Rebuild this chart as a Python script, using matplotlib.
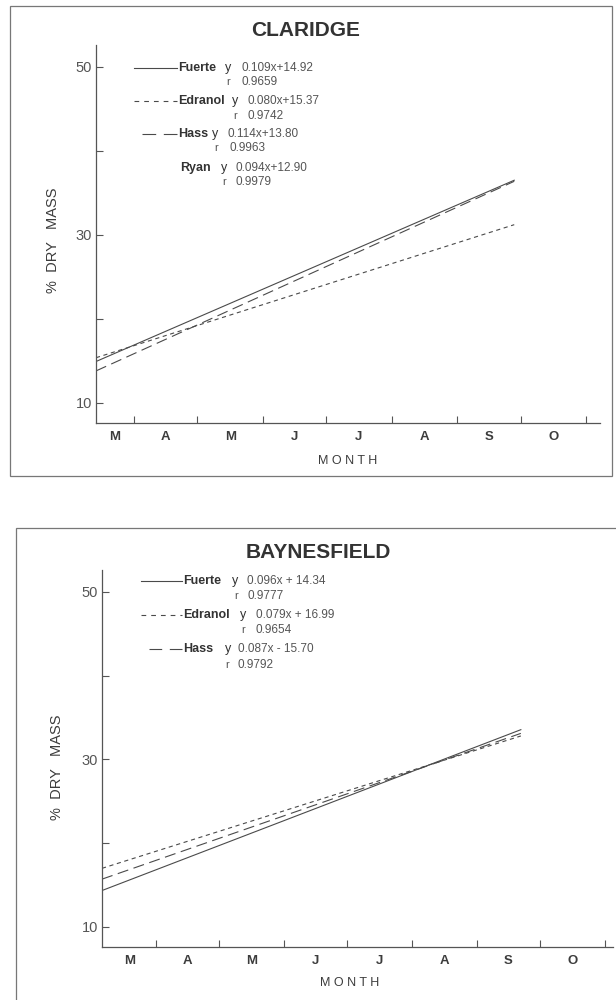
import matplotlib
matplotlib.use("Agg")
import matplotlib.pyplot as plt
import numpy as np
import pandas as pd
from matplotlib.lines import Line2D
from matplotlib.patches import Rectangle

plt.rcParams['font.family'] = ['Liberation Sans', 'DejaVu Sans']
plt.rcParams['lines.scale_dashes'] = False

# regression lines, x = days from start of sampling
months = ['M', 'A', 'M', 'J', 'J', 'A', 'S', 'O']

claridge_cultivars = ['Fuerte', 'Edranol', 'Hass', 'Ryan']
claridge_slope = [0.109, 0.080, 0.114, 0.094]
claridge_intercept = [14.92, 15.37, 13.80, 12.90]
claridge_eq = ['0.109x+14.92', '0.080x+15.37', '0.114x+13.80', '0.094x+12.90']
claridge_r = ['0.9659', '0.9742', '0.9963', '0.9979']
claridge_drawn = [True, True, True, False]
claridge_start = '2000-03-14'
claridge_days = 198

bayn_cultivars = ['Fuerte', 'Edranol', 'Hass']
bayn_slope = [0.096, 0.079, 0.087]
bayn_intercept = [14.34, 16.99, 15.70]
bayn_eq = ['0.096x + 14.34', '0.079x + 16.99', '0.087x - 15.70']
bayn_r = ['0.9777', '0.9654', '0.9792']
bayn_drawn = [True, True, True]
bayn_start = '2000-03-06'
bayn_days = 200

W, H = 616, 1000
INK = '#3c3c3c'
styles = {
    'Fuerte': dict(linestyle='-'),
    'Edranol': dict(dashes=(3, 2.6)),
    'Hass': dict(dashes=(8, 4)),
    'Ryan': dict(linestyle='-.'),
}


def key_style(name, span_px):
    # short key samples: Hass gets exactly two dashes across the span
    if name == 'Hass':
        span_pt = span_px * 72 / 100
        gap = 5.5
        return dict(dashes=((span_pt - gap) / 2, gap))
    if name == 'Edranol':
        return dict(dashes=(3.4, 3.6))
    return dict(linestyle='-')


def fx(px):
    return px / W


def fy(py):
    return 1 - py / H


fig = plt.figure(figsize=(6.16, 10), dpi=100)
fig.set_facecolor('white')

# outer frames
fig.add_artist(Rectangle((fx(10), fy(476)), fx(602), 470 / H, fill=False,
                         lw=0.9, ec='#777777', transform=fig.transFigure))
fig.add_artist(Rectangle((fx(16), fy(1040)), fx(640), 512 / H, fill=False,
                         lw=0.9, ec='#777777', transform=fig.transFigure))


def panel(box, xmax, start, ndays, title, title_xy, ylab_xy, xlab_xy,
          names, slopes, icepts, eqs, rs, drawn, legend):
    left, top, right, bottom = box
    ax = fig.add_axes([fx(left), fy(bottom), fx(right - left), (bottom - top) / H])
    ax.set_xlim(0, xmax)
    ax.set_ylim(7.6, 52.6)

    x = np.linspace(0, ndays, 50)
    for name, b, a, d in zip(names, slopes, icepts, drawn):
        if d:
            ax.plot(x, b * x + a, color='#4a4a4a', lw=0.8, **styles[name])

    for s in ['top', 'right']:
        ax.spines[s].set_visible(False)
    for s in ['left', 'bottom']:
        ax.spines[s].set_color('#555555')
        ax.spines[s].set_linewidth(0.9)

    # month boundaries and month names between them
    t0 = pd.Timestamp(start)
    bounds = (pd.date_range('2000-04-01', periods=8, freq='MS') - t0).days.values
    edges = np.concatenate([[0], bounds])
    mids = (edges[:-1] + edges[1:]) / 2
    ax.set_xticks(bounds)
    ax.set_xticklabels([])
    ax.set_xticks(mids, months, minor=True)
    ax.tick_params(axis='x', which='major', direction='in', length=5,
                   width=0.8, color='#555555')
    ax.tick_params(axis='x', which='minor', length=0, pad=6,
                   labelsize=9.5, labelcolor=INK)
    for t in ax.get_xticklabels(minor=True):
        t.set_fontweight('bold')

    ax.set_yticks([10, 20, 30, 40, 50], ['10', '', '30', '', '50'])
    ax.tick_params(axis='y', direction='in', length=5, width=0.8,
                   color='#555555', pad=3, labelsize=10.5, labelcolor='#555555')

    fig.text(fx(title_xy[0]), fy(title_xy[1]), title, ha='center', va='center',
             fontsize=15, fontweight='bold', color='#333333')
    fig.text(fx(ylab_xy[0]), fy(ylab_xy[1]), '%  DRY   MASS', rotation=90,
             ha='center', va='center', fontsize=10.5, color=INK)
    fig.text(fx(xlab_xy[0]), fy(xlab_xy[1]), 'M O N T H', ha='center',
             va='center', fontsize=9, color=INK)

    # equation block
    for i, name in enumerate(names):
        ly, sx0, sx1, nx, yx, ex, ry, rx, rvx = legend[i]
        if drawn[i]:
            fig.add_artist(Line2D([fx(sx0), fx(sx1)], [fy(ly), fy(ly)],
                                  color='#4a4a4a', lw=0.8,
                                  transform=fig.transFigure,
                                  **key_style(name, sx1 - sx0)))
        fig.text(fx(nx), fy(ly), name, ha='left', va='center', fontsize=9,
                 color='#333333', fontweight='bold')
        fig.text(fx(yx), fy(ly), 'y', ha='left', va='center', fontsize=9,
                 color='#333333')
        fig.text(fx(ex), fy(ly), eqs[i], ha='left', va='center', fontsize=8.5,
                 color='#555555')
        fig.text(fx(rx), fy(ry), 'r', ha='left', va='center', fontsize=8,
                 color='#555555')
        fig.text(fx(rvx), fy(ry), rs[i], ha='left', va='center', fontsize=8.5,
                 color='#555555')
    return ax


# row: line y, key x0, key x1, name x, "y" x, equation x, r row y, "r" x, r value x
claridge_legend = [
    (68, 134, 177, 178, 225, 242, 82, 226, 241),
    (101, 134, 177, 178, 232, 247, 116, 233, 247),
    (134, 142, 177, 178, 212, 228, 148, 214, 229),
    (168, 0, 0, 180, 221, 236, 182, 222, 235),
]
bayn_legend = [
    (581, 141, 182, 183, 232, 247, 596, 234, 247),
    (615, 141, 182, 183, 240, 256, 630, 241, 255),
    (649, 149, 182, 183, 225, 238, 665, 225, 238),
]

panel((96, 45, 600, 423), 238.6, claridge_start, claridge_days,
      'CLARIDGE', (306, 30), (53, 240), (348, 461),
      claridge_cultivars, claridge_slope, claridge_intercept, claridge_eq,
      claridge_r, claridge_drawn, claridge_legend)

panel((102, 570, 613, 947), 244, bayn_start, bayn_days,
      'BAYNESFIELD', (318, 552), (57, 767), (350, 983),
      bayn_cultivars, bayn_slope, bayn_intercept, bayn_eq,
      bayn_r, bayn_drawn, bayn_legend)

plt.savefig('out.png', dpi=100, facecolor='white')
